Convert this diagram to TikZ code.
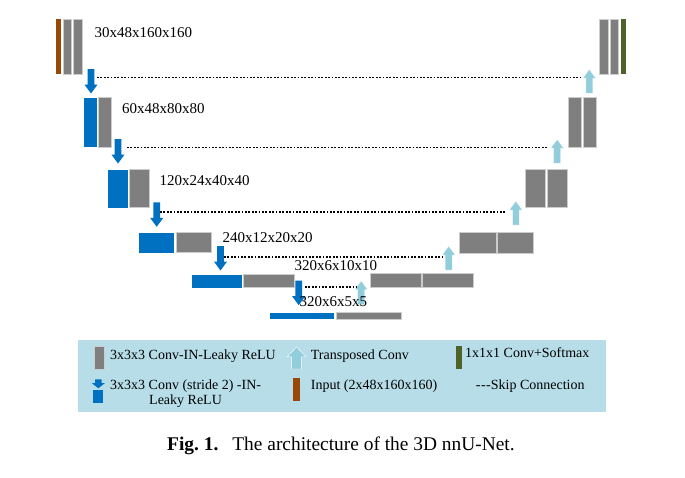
\documentclass[tikz,border=0pt]{standalone}
\usepackage{fontspec}
\setmainfont{Liberation Serif}
\usetikzlibrary{positioning,calc}
\definecolor{convblue}{HTML}{0070C0}
\definecolor{convgray}{HTML}{7F7F7F}
\definecolor{upblue}{HTML}{92CDDC}
\definecolor{legendbg}{HTML}{B7DEE8}
\definecolor{inbrown}{HTML}{984807}
\definecolor{outgreen}{HTML}{4F6228}
\tikzset{graybar/.style={fill=convgray,draw=gray!40,line width=.6pt},
  bluebar/.style={fill=convblue,draw=white,line width=.4pt},
  skip/.style={draw=black,line width=1.6pt,dash pattern=on 1.8pt off 1.6pt},
  dimlabel/.style={anchor=base west,inner sep=0pt,font=\fontsize{15}{18}\selectfont},
  legtext/.style={anchor=base west,inner sep=0pt,align=left,font=\fontsize{14}{16}\selectfont},
  dnarrow/.pic={\fill[convblue] (-3.3,0) -- (3.3,0) -- (3.3,15.5) -- (6.6,15.5)
    -- (0,24.5) -- (-6.6,15.5) -- (-3.3,15.5) -- cycle;},
  uparrow/.pic={\filldraw[fill=upblue,draw=white,line width=.4pt] (0,0) -- (6.6,9)
    -- (3.5,9) -- (3.5,24) -- (-3.5,24) -- (-3.5,9) -- (-6.6,9) -- cycle;}}

\begin{document}
\begin{tikzpicture}[x=1pt,y=-1pt]
\useasboundingbox (0,0) rectangle (685,477);
% encoder side
\fill[inbrown] (56,19.3) rectangle (60.7,74.3);
\foreach \xa/\xb in {63.3/71.7,73.3/82.3}{
  \filldraw[graybar] (\xa,19.3) rectangle (\xb,74.3);}
\foreach \ya/\yb/\ba/\bb/\ga/\gb in {97.3/147/83.3/96.7/98.3/111.7,
  169/207.7/107.3/127.7/129.3/149.7,232.3/252.7/138.3/173.7/176/211.7,
  274/287.7/191/241.7/243.3/294,312.3/319/269/333.7/336/401}{
  \filldraw[bluebar] (\ba,\ya) rectangle (\bb,\yb);
  \filldraw[graybar] (\ga,\ya) rectangle (\gb,\yb);
}
% decoder side
\foreach \ya/\yb/\aa/\ab/\ba/\bb in {273.3/287.3/370.7/421/422.7/473.3,
  232/253/459.3/496/497.3/533.7,169/207.7/525.3/545.3/547/567.3,
  97.3/147.3/568/581.3/583.3/596.7,19.3/74.3/599.3/608.3/610/618.7}{
  \filldraw[graybar] (\aa,\ya) rectangle (\ab,\yb);
  \filldraw[graybar] (\ba,\ya) rectangle (\bb,\yb);
}
\fill[outgreen] (621,19.3) rectangle (625.7,74.3);
% down and up sampling
\foreach \cx/\cy in {91/69,118/139,156.7/202.3,220.5/246,298.7/280.7}{
  \pic at (\cx,\cy) {dnarrow};}
\foreach \cx/\cy in {589.3/69.3,557.2/139.3,515.8/201,448.7/246,361.2/280.7}{
  \pic at (\cx,\cy) {uparrow};}
% skip connections
\foreach \i/\y/\xa/\xb in {1/77.3/97/580,2/147.3/127/547,3/212/160/506.7,
  4/256.7/224/442.7,5/286.7/305/356.7}{
  \coordinate (skip\i-a) at (\xa,\y);
  \coordinate (skip\i-b) at (\xb,\y);
  \draw[skip] (skip\i-a) -- (skip\i-b);
}
% feature map sizes
\foreach \i/\x/\y/\txt in {1/94.3/37.3/30x48x160x160,2/122/113.3/60x48x80x80,
  3/159.3/185/120x24x40x40,4/222.3/242.7/240x12x20x20,
  5/294.3/270.7/320x6x10x10,6/299.3/306/320x6x5x5}{
  \node[dimlabel] (size\i) at (\x,\y) {\txt};}
% legend
\node[fill=legendbg,inner sep=0pt,minimum width=528.7pt,minimum height=71.7pt,
  anchor=north west] (legend) at (77.3,340) {};
\filldraw[graybar] (94,346.7) rectangle (104,369.3);
\filldraw[fill=upblue,draw=white,line width=.4pt] (296.6,347) -- (306,356.7)
  -- (301.6,356.7) -- (301.6,369) -- (291.6,369) -- (291.6,356.7) -- (287.3,356.7) -- cycle;
\fill[outgreen] (455.7,346) rectangle (461.7,369.3);
\fill[convblue] (95,379.3) -- (101.7,379.3) -- (101.7,383) -- (105,383) -- (98.3,388.3)
  -- (91.7,383) -- (95,383) -- cycle;
\fill[convblue] (93.3,390) rectangle (103.3,403.3);
\fill[inbrown] (292.7,378.3) rectangle (300,401);
\node[legtext] (leg-conv) at (110,359) {3x3x3 Conv-IN-Leaky ReLU};
\node[legtext] (leg-up) at (310.7,359) {Transposed Conv};
\node[legtext] (leg-out) at (465,357.5) {1x1x1 Conv+Softmax};
\node[legtext] (leg-down) at (110,389) {3x3x3 Conv (stride 2) -IN-};
\node[legtext] (leg-down2) at (149,404) {Leaky ReLU};
\node[legtext] (leg-in) at (310.7,389) {Input (2x48x160x160)};
\node[legtext] (leg-skip) at (475.7,389) {-\kern.5pt-\kern.5pt-Skip Connection};
% caption
\node[anchor=base west,inner sep=0pt,font=\fontsize{19.4}{22}\selectfont] (caption)
  at (167,450) {\textbf{Fig.~1.}\hspace{14pt}The architecture of the 3D nnU-Net.};
\end{tikzpicture}
\end{document}
